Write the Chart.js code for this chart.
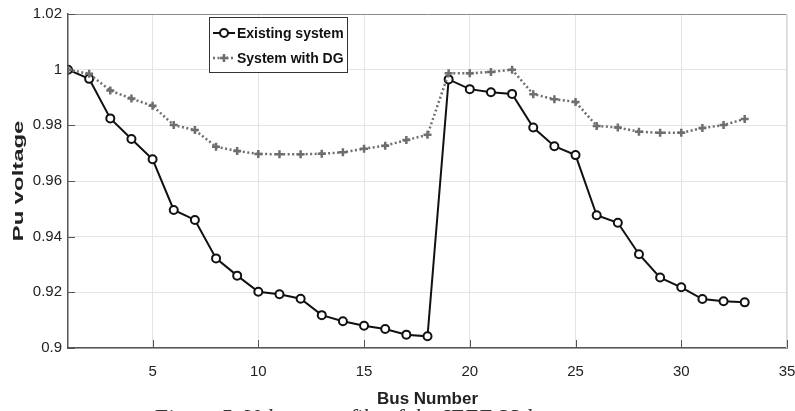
<!DOCTYPE html>
<html>
<head>
<meta charset="utf-8">
<script src="https://cdn.jsdelivr.net/npm/chart.js@4/dist/chart.umd.min.js"></script>
<style>
  html, body { margin: 0; padding: 0; background: #fff; overflow: hidden; }
  #wrap { position: relative; width: 795px; height: 411px; }
  #caption {
    position: absolute; left: 153px; top: 405px; line-height: 19px;
    font: italic 23px "Liberation Serif", serif; color: #333;
    background: #fff; white-space: nowrap;
  }
</style>
</head>
<body>
<div id="wrap">
  <canvas id="voltageChart"></canvas>
  <div id="caption">Figure 5. Voltage profile of the IEEE 33 bus system</div>
</div>
<script>
var busNumbers = [1, 2, 3, 4, 5, 6, 7, 8, 9, 10, 11, 12, 13, 14, 15, 16, 17,
                  18, 19, 20, 21, 22, 23, 24, 25, 26, 27, 28, 29, 30, 31, 32, 33];

var existingSystem = [1.0, 0.9967, 0.9825, 0.9751, 0.9678, 0.9496, 0.946, 0.9322, 0.926,
                      0.9202, 0.9193, 0.9177, 0.9118, 0.9096, 0.908, 0.9068, 0.9048, 0.9042,
                      0.9965, 0.993, 0.9919, 0.9913, 0.9792, 0.9725, 0.9693, 0.9477, 0.945,
                      0.9337, 0.9253, 0.9218, 0.9176, 0.9168, 0.9164];

var systemWithDG = [1.0, 0.9985, 0.9925, 0.9896, 0.987, 0.9801, 0.9783, 0.9723, 0.9708,
                    0.9697, 0.9696, 0.9696, 0.9698, 0.9703, 0.9716, 0.9727, 0.9747, 0.9766,
                    0.9987, 0.9987, 0.9992, 1.0, 0.9912, 0.9894, 0.9884, 0.9798, 0.9792,
                    0.9777, 0.9773, 0.9773, 0.979, 0.9801, 0.9823];

var xTicks = [5, 10, 15, 20, 25, 30, 35];
var yTicks = [0.9, 0.92, 0.94, 0.96, 0.98, 1, 1.02];

function toPoints(values) {
    return busNumbers.map(function(b, i) { return {x: b, y: values[i]}; });
}

// frame, inward ticks and rotated y title
var framePlugin = {
    id: 'frame',
    beforeDatasetsDraw: function(chart) {
        var ctx = chart.ctx, a = chart.chartArea;
        var xs = chart.scales.x, ys = chart.scales.y;
        ctx.save();
        ctx.strokeStyle = '#8a8a8a';
        ctx.lineWidth = 1;
        ctx.beginPath();
        ctx.moveTo(a.left, a.top + 0.5);
        ctx.lineTo(a.right, a.top + 0.5);
        ctx.stroke();
        ctx.strokeStyle = '#d8d8d8';
        ctx.beginPath();
        ctx.moveTo(a.right - 0.5, a.top);
        ctx.lineTo(a.right - 0.5, a.bottom);
        ctx.stroke();

        ctx.strokeStyle = '#555';
        xTicks.forEach(function(v) {
            var px = Math.round(xs.getPixelForValue(v)) + 0.5;
            ctx.beginPath();
            ctx.moveTo(px, a.bottom);
            ctx.lineTo(px, a.bottom - 8);
            ctx.stroke();
        });
        yTicks.forEach(function(v) {
            var py = Math.round(ys.getPixelForValue(v)) + 0.5;
            ctx.beginPath();
            ctx.moveTo(a.left, py);
            ctx.lineTo(a.left + 7, py);
            ctx.stroke();
        });
        ctx.restore();
    },
    afterDraw: function(chart) {
        var ctx = chart.ctx, a = chart.chartArea;
        ctx.save();
        ctx.translate(19, (a.top + a.bottom) / 2);
        ctx.rotate(-Math.PI / 2);
        ctx.scale(1.7, 1);
        ctx.font = 'bold 14px "Liberation Sans", Arial, sans-serif';
        ctx.fillStyle = '#222';
        ctx.textAlign = 'center';
        ctx.textBaseline = 'middle';
        ctx.fillText('Pu voltage', 0, 0);
        ctx.restore();
    }
};

// legend box drawn inside the plot
var legendPlugin = {
    id: 'boxLegend',
    afterDraw: function(chart) {
        var ctx = chart.ctx;
        var bx = 209.5, by = 17.5, bw = 138, bh = 55;
        ctx.save();
        ctx.fillStyle = '#fff';
        ctx.fillRect(bx, by, bw, bh);
        ctx.strokeStyle = '#333';
        ctx.lineWidth = 1;
        ctx.strokeRect(bx, by, bw, bh);

        var rows = [33, 58];
        chart.data.datasets.forEach(function(ds, i) {
            var y = rows[i];
            ctx.strokeStyle = ds.borderColor;
            ctx.lineWidth = ds.borderWidth;
            ctx.setLineDash(ds.borderDash || []);
            ctx.beginPath();
            ctx.moveTo(213, y);
            ctx.lineTo(235, y);
            ctx.stroke();
            ctx.setLineDash([]);
            ctx.fillStyle = ds.pointBackgroundColor;
            ctx.strokeStyle = ds.pointBorderColor;
            ctx.lineWidth = ds.pointBorderWidth;
            Chart.helpers.drawPoint(ctx, {
                pointStyle: ds.pointStyle,
                radius: ds.pointRadius,
                borderWidth: ds.pointBorderWidth
            }, 224, y);

            ctx.fillStyle = '#111';
            ctx.font = 'bold 14px "Liberation Sans", Arial, sans-serif';
            ctx.textAlign = 'left';
            ctx.textBaseline = 'middle';
            ctx.fillText(ds.label, 237, y + 1);
        });
        ctx.restore();
    }
};

var ctx = document.getElementById('voltageChart');

var voltageChart = new Chart(ctx, {
    type: 'line',
    data: {
        datasets: [{
            label: 'Existing system',
            data: toPoints(existingSystem),
            order: 1,
            borderColor: '#111',
            borderWidth: 2,
            pointStyle: 'circle',
            pointRadius: 4,
            pointBorderWidth: 2,
            pointBackgroundColor: '#fff',
            pointBorderColor: '#111',
            fill: false,
            tension: 0
        }, {
            label: 'System with DG',
            data: toPoints(systemWithDG),
            order: 0,
            borderColor: '#6e6e6e',
            borderWidth: 2.5,
            borderDash: [2, 2.5],
            pointStyle: 'cross',
            pointRadius: 4,
            pointBorderWidth: 2.5,
            pointBackgroundColor: '#6e6e6e',
            pointBorderColor: '#6e6e6e',
            fill: false,
            tension: 0
        }]
    },
    options: {
        responsive: true,
        maintainAspectRatio: false,
        animation: false,
        layout: { padding: { left: 0, right: 8, top: 14, bottom: 0 } },
        plugins: {
            legend: { display: false },
            tooltip: { enabled: false }
        },
        scales: {
            x: {
                type: 'linear',
                min: 1,
                max: 35,
                afterFit: function(scale) {
                    scale.height = 63;
                    scale.paddingLeft = 0;
                    scale.paddingRight = 0;
                },
                afterBuildTicks: function(scale) {
                    scale.ticks = xTicks.map(function(v) { return {value: v}; });
                },
                grid: { color: '#e4e4e4', drawTicks: false },
                border: { color: '#555', width: 1.5 },
                ticks: {
                    padding: 15,
                    color: '#222',
                    font: { family: '"Liberation Sans", Arial, sans-serif', size: 15 }
                },
                title: {
                    display: true,
                    text: 'Bus Number',
                    color: '#222',
                    font: { family: '"Liberation Sans", Arial, sans-serif', size: 17, weight: 'bold' },
                    padding: { top: 0, bottom: 1 }
                }
            },
            y: {
                min: 0.9,
                max: 1.02,
                afterFit: function(scale) {
                    scale.width = 68;
                    scale.paddingTop = 0;
                    scale.paddingBottom = 0;
                },
                afterBuildTicks: function(scale) {
                    scale.ticks = yTicks.map(function(v) { return {value: v}; });
                },
                grid: { color: '#e4e4e4', drawTicks: false },
                border: { color: '#555', width: 1.5 },
                ticks: {
                    padding: 6,
                    color: '#222',
                    font: { family: '"Liberation Sans", Arial, sans-serif', size: 15 },
                    callback: function(v) { return String(Number(v.toFixed(2))); }
                }
            }
        }
    },
    plugins: [framePlugin, legendPlugin]
});
</script>
</body>
</html>
